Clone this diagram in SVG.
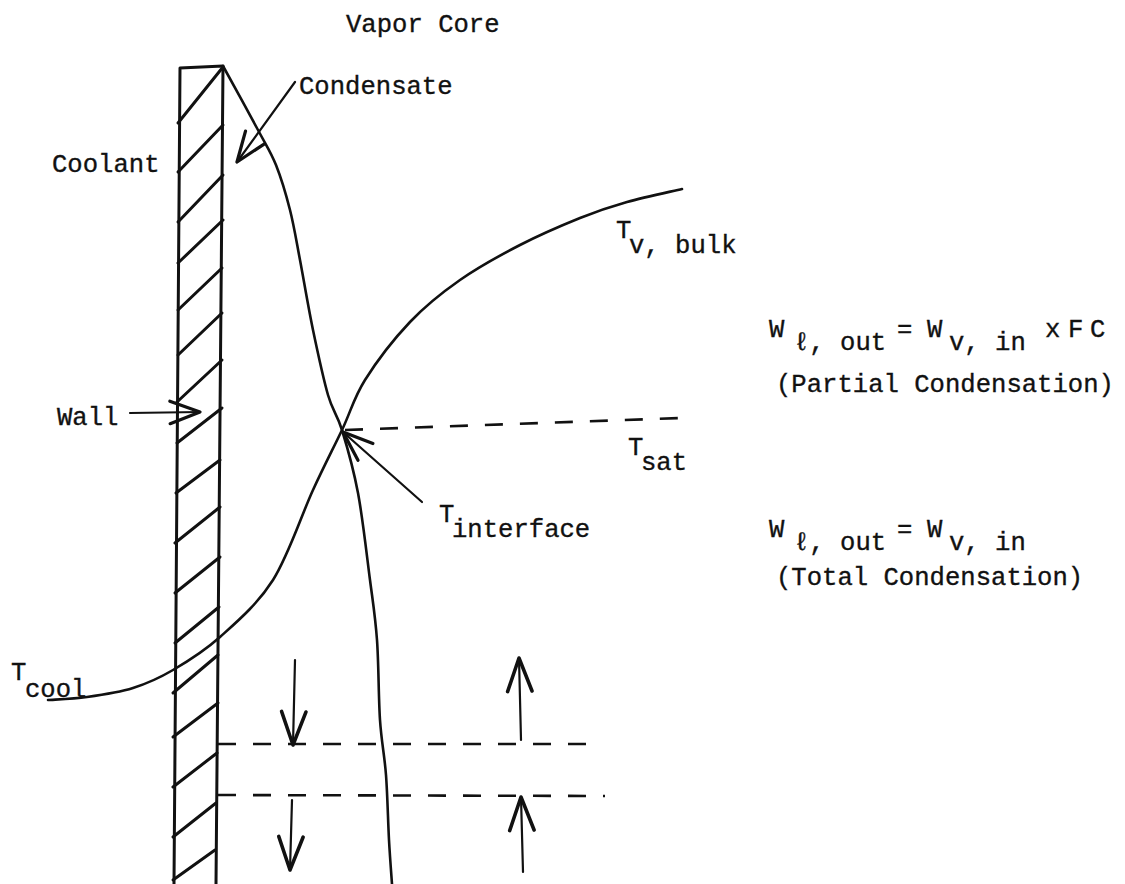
<svg xmlns="http://www.w3.org/2000/svg" width="1125" height="884" viewBox="0 0 1125 884">
<style>
text{font-family:"Liberation Mono","DejaVu Sans Mono",monospace;font-size:25.6px;fill:#111;stroke:#111;stroke-width:0.35}
.ln{stroke:#111;fill:none;stroke-linecap:round;stroke-linejoin:round}
.curve{stroke-width:2.6}
.wall{stroke-width:3}
.dash{stroke-width:2.6;stroke-dasharray:18 17;stroke-linecap:butt}
.arr{stroke-width:2.2}
</style>
<defs>
<marker id="ah" markerUnits="userSpaceOnUse" markerWidth="40" markerHeight="40" refX="0" refY="0" viewBox="-30 -15 32 30" orient="auto" overflow="visible">
<path d="M-24,-9 L0,0 L-24,9" fill="none" stroke="#111" stroke-width="2.6" stroke-linecap="round" stroke-linejoin="round"/>
</marker>
<marker id="ahb" markerUnits="userSpaceOnUse" markerWidth="40" markerHeight="40" refX="0" refY="0" viewBox="-34 -15 36 30" orient="auto" overflow="visible">
<path d="M-30,-11 L0,0 L-30,11" fill="none" stroke="#111" stroke-width="3.2" stroke-linecap="round" stroke-linejoin="round"/>
</marker>
</defs>
<rect width="1125" height="884" fill="#fff"/>

<g id="wall">
<path class="ln wall" d="M174,884 L180,68 L223,66 L216,884"/>
<g class="ln wall">
<line x1="178" y1="123" x2="223" y2="67"/>
<line x1="178" y1="172" x2="223" y2="125"/>
<line x1="178" y1="222" x2="223" y2="175"/>
<line x1="178" y1="263" x2="223" y2="220"/>
<line x1="178" y1="310" x2="222" y2="268"/>
<line x1="178" y1="355" x2="222" y2="313"/>
<line x1="177" y1="402" x2="222" y2="360"/>
<line x1="177" y1="443" x2="222" y2="408"/>
<line x1="176" y1="493" x2="220" y2="460"/>
<line x1="175" y1="543" x2="220" y2="507"/>
<line x1="175" y1="593" x2="220" y2="557"/>
<line x1="175" y1="643" x2="219" y2="607"/>
<line x1="173" y1="693" x2="218" y2="655"/>
<line x1="173" y1="737" x2="218" y2="703"/>
<line x1="173" y1="787" x2="217" y2="753"/>
<line x1="173" y1="837" x2="216" y2="803"/>
<line x1="173" y1="880" x2="215" y2="850"/>
</g>
</g>

<g id="condensate-curve">
<path class="ln curve" d="M223,66 C228.8,76.7 249.2,113.5 258,130 C266.8,146.5 270.7,151.7 276,165 C281.3,178.3 286,194.2 290,210 C294,225.8 296.2,240 300,260 C303.8,280 308.3,307.5 313,330 C317.7,352.5 323.2,378.3 328,395 C332.8,411.7 337,413.7 342,430 C347,446.3 353.3,468 358,493 C362.7,518 366.8,555.5 370,580 C373.2,604.5 375.3,616.7 377,640 C378.7,663.3 378.5,697.5 380,720 C381.5,742.5 384.5,755 386,775 C387.5,795 388,821.8 389,840 C390,858.2 391.5,876.7 392,884"/>
</g>

<g id="temperature-curve">
<path class="ln curve" d="M48,700 C54.5,699.5 72.8,699 87,697 C101.2,695 118.7,692.5 133,688 C147.3,683.5 158.5,678.5 173,670 C187.5,661.5 203.3,652 220,637 C236.7,622 257.5,604.5 273,580 C288.5,555.5 301.5,515 313,490 C324.5,465 333.3,448.3 342,430 C350.7,411.7 353.7,398 365,380 C376.3,362 394.2,338.7 410,322 C425.8,305.3 441.7,292.8 460,280 C478.3,267.2 500,255.3 520,245 C540,234.7 562.2,225.2 580,218 C597.8,210.8 610,206.8 627,202 C644,197.2 672.8,191.2 682,189"/>
</g>

<g id="connectors">
<line class="ln dash" x1="345" y1="430" x2="680" y2="418"/>
<line class="ln dash" x1="218" y1="744" x2="600" y2="744"/>
<line class="ln dash" x1="218" y1="795" x2="605" y2="796"/>
<line class="ln arr" x1="295" y1="82" x2="237" y2="162" marker-end="url(#ah)"/>
<line class="ln arr" x1="130" y1="413" x2="200" y2="412" marker-end="url(#ah)"/>
<line class="ln arr" x1="422" y1="502" x2="343" y2="432" marker-end="url(#ah)"/>
<line class="ln arr" x1="295" y1="660" x2="293" y2="745" marker-end="url(#ahb)"/>
<line class="ln arr" x1="292" y1="800" x2="290" y2="870" marker-end="url(#ahb)"/>
<line class="ln arr" x1="521" y1="740" x2="519" y2="658" marker-end="url(#ahb)"/>
<line class="ln arr" x1="523" y1="872" x2="521" y2="797" marker-end="url(#ahb)"/>
</g>

<g id="labels">
<text id="vapor-core" x="346" y="32">Vapor Core</text>
<text id="condensate" x="299" y="94">Condensate</text>
<text id="coolant" x="52" y="172">Coolant</text>
<text id="wall-label" x="57" y="425">Wall</text>
<g id="t-v-bulk"><text x="616" y="238">T</text><text x="629" y="253">v, bulk</text></g>
<g id="t-sat"><text x="628" y="455">T</text><text x="641" y="470">sat</text></g>
<g id="t-interface"><text x="439" y="522">T</text><text x="452" y="537">interface</text></g>
<g id="t-cool"><text x="11" y="680">T</text><text x="25" y="697">cool</text></g>
<g id="eq-partial">
<text x="769" y="337">W</text><text x="794" y="350">ℓ, out</text>
<text x="897" y="337">=</text><text x="927" y="337">W</text><text x="949" y="350">v, in</text>
<text x="1045" y="337">x</text><text x="1068" y="337">F</text><text x="1090" y="337">C</text>
<text x="776" y="392">(Partial Condensation)</text>
</g>
<g id="eq-total">
<text x="769" y="537">W</text><text x="794" y="550">ℓ, out</text>
<text x="897" y="537">=</text><text x="927" y="537">W</text><text x="949" y="550">v, in</text>
<text x="776" y="585">(Total Condensation)</text>
</g>
</g>
</svg>
